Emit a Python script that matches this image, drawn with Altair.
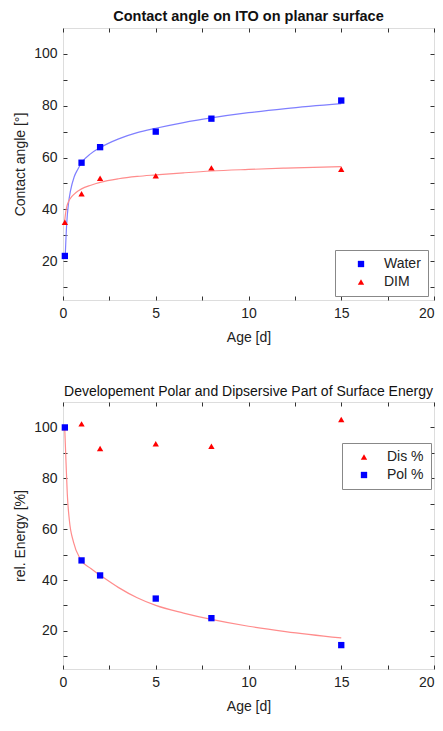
import altair as alt
import pandas as pd

FONT = "Liberation Sans"

# ---------------- data: top panel (contact angle) ----------------
age = [0.1, 1, 2, 5, 8, 15]
water = [22, 58, 64, 70, 75, 82]
dim = [35, 46, 52, 53, 56, 55.5]

# fitted curves
water_fit_x = [0.12, 0.2, 0.3, 0.4, 0.6, 0.8, 1, 1.5, 2, 3, 4, 5, 6.5, 8, 10, 12, 15]
water_fit_y = [22, 34.5, 42.5, 47, 52.5, 55.5, 58, 61.5, 63.8, 67.2, 69.6, 71.3, 73.5, 75.3, 77.3, 78.9, 80.8]
dim_fit_x = [0.09, 0.15, 0.21, 0.3, 0.48, 0.7, 1, 1.5, 2, 3, 4, 5, 6.5, 8, 10, 12, 15]
dim_fit_y = [35.4, 39, 41.2, 43, 45, 46.5, 47.9, 49.3, 50.4, 51.8, 52.7, 53.3, 54.1, 54.8, 55.4, 55.9, 56.5]

# ---------------- data: bottom panel (surface energy) ----------------
dis_pct = [100, 101.4, 91.7, 93.6, 92.6, 103.1]
pol_pct = [100, 47.7, 41.8, 32.7, 25.0, 14.4]
pol_fit_x = [0.09, 0.16, 0.23, 0.34, 0.57, 0.93, 1.5, 2, 3, 4, 5, 6.5, 8, 10, 12, 15]
pol_fit_y = [100.3, 86.8, 74, 63.7, 54.8, 48.3, 44.5, 41.9, 37, 33, 30, 27, 24.5, 21.8, 19.7, 17.2]

x_ticks = [0, 2.5, 5, 7.5, 10, 12.5, 15, 17.5, 20]
y_ticks = [10, 20, 30, 40, 50, 60, 70, 80, 90, 100]

W = 371
XDOM = [0, 20]
YDOM = [5, 110]

BLUE = "#0000ff"
RED = "#ff0000"
LBLUE = "#7f7fff"
LRED = "#ff8c8c"


def xs():
    return alt.Scale(domain=XDOM, nice=False, zero=False)


def ys():
    return alt.Scale(domain=YDOM, nice=False, zero=False)


def axis_main(orient, title, values, expr, tpad, align=None):
    kw = {}
    if align is not None:
        kw["labelAlign"] = align
    return alt.Axis(orient=orient, title=title, values=values, labelExpr=expr,
                    domain=False, grid=False, offset=-4, tickSize=4, tickColor="#333",
                    tickWidth=1, labelPadding=6, labelFontSize=14, labelFont=FONT,
                    labelColor="#222", titleFont=FONT, titleFontSize=14,
                    titleFontWeight="normal", titleColor="#222", titlePadding=tpad,
                    labelFlush=False, labelOverlap=False, **kw)


def axis_mirror(orient, values):
    return alt.Axis(orient=orient, title=None, values=values, labels=False,
                    domain=False, grid=False, offset=-4, tickSize=4, tickColor="#333",
                    tickWidth=1, minExtent=0, maxExtent=0)


X_ALIGN = {"condition": {"test": "datum.value == 20", "value": "right"}, "value": "center"}


def panel(pts, fits, names, colors, shapes, title, bold, tsize, ytitle, lx, ly, sym_off, h):
    legend = alt.Legend(orient="none", legendX=lx, legendY=ly, title=None,
                        strokeColor="#888", fillColor="white", padding=7,
                        symbolOffset=sym_off, labelOffset=16, labelFontSize=14,
                        labelFont=FONT, labelColor="#222", symbolSize=40,
                        symbolStrokeWidth=0, rowPadding=4)
    layers = []
    for i, (fdf, fcol) in enumerate(fits):
        if i == 0:
            xa, ya = axis_mirror("top", x_ticks), axis_mirror("right", y_ticks)
        else:
            xa, ya = None, None
        layers.append(
            alt.Chart(fdf).mark_line(strokeWidth=1.2, interpolate="monotone", color=fcol)
            .encode(x=alt.X("x:Q", scale=xs(), axis=xa),
                    y=alt.Y("y:Q", scale=ys(), axis=ya))
        )
    points = alt.Chart(pts).mark_point(filled=True, opacity=1, size=40).encode(
        x=alt.X("x:Q", scale=xs(),
                axis=axis_main("bottom", "Age [d]", x_ticks,
                               "datum.value % 5 == 0 ? datum.label : ''", 10, X_ALIGN)),
        y=alt.Y("y:Q", scale=ys(),
                axis=axis_main("left", ytitle, y_ticks,
                               "datum.value % 20 == 0 ? datum.label : ''", 6)),
        color=alt.Color("series:N", scale=alt.Scale(domain=names, range=colors),
                        legend=legend),
        shape=alt.Shape("series:N", scale=alt.Scale(domain=names, range=shapes),
                        legend=legend),
        order=alt.Order("ord:Q"),
    )
    layers.append(points)
    return alt.layer(*layers).resolve_axis(
        x="independent", y="independent"
    ).properties(
        width=W, height=h,
        title=alt.TitleParams(text=title, font=FONT, fontSize=tsize,
                              fontWeight="bold" if bold else "normal",
                              color="#111", anchor="middle", frame="group", offset=3),
    )


top_pts = pd.DataFrame({
    "x": age + age,
    "y": water + dim,
    "series": ["Water"] * len(age) + ["DIM"] * len(age),
    "ord": [1] * len(age) + [0] * len(age),
})
water_fit = pd.DataFrame({"x": water_fit_x, "y": water_fit_y})
dim_fit = pd.DataFrame({"x": dim_fit_x, "y": dim_fit_y})
bot_pts = pd.DataFrame({
    "x": age + age,
    "y": dis_pct + pol_pct,
    "series": ["Dis %"] * len(age) + ["Pol %"] * len(age),
    "ord": [0] * len(age) + [1] * len(age),
})
pol_fit = pd.DataFrame({"x": pol_fit_x, "y": pol_fit_y})

top = panel(top_pts, [(water_fit, LBLUE), (dim_fit, LRED)],
            ["Water", "DIM"], [BLUE, RED], ["square", "triangle-up"],
            "Contact angle on ITO on planar surface", True, 14.5, "Contact angle [°]",
            272, 222, 12, 272)
bottom = panel(bot_pts, [(pol_fit, LRED)],
               ["Dis %", "Pol %"], [RED, BLUE], ["triangle-up", "square"],
               "Developement Polar and Dipsersive Part of Surface Energy", False, 14,
               "rel. Energy [%]", 279, 41, 8, 267)

chart = alt.vconcat(top, bottom, spacing=39).resolve_scale(
    color="independent", shape="independent"
).properties(
    padding={"left": 5, "top": 0, "right": 0, "bottom": 0}
).configure_view(stroke="#333", strokeWidth=1.5).configure(background="white")

chart.save("out.html", embed_options={"renderer": "svg", "actions": False})
